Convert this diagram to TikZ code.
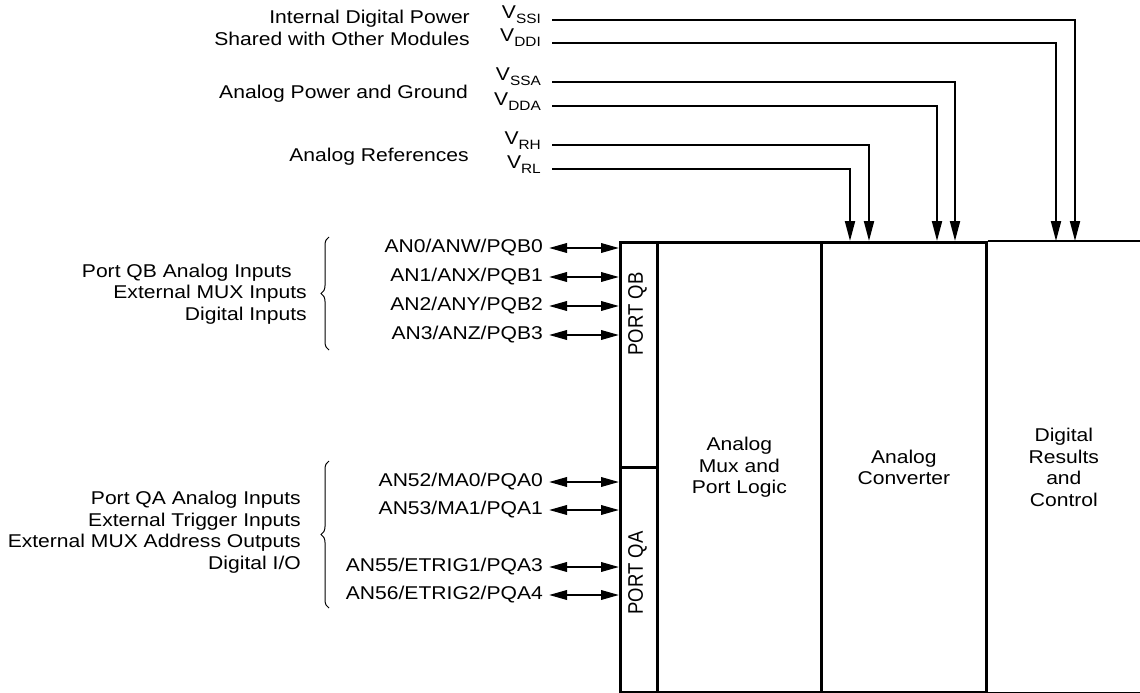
\documentclass[tikz,border=0pt]{standalone}
\usepackage{fontspec}
\setmainfont{Liberation Sans}[FakeStretch=1.14]
\newfontfamily\rotfont{Liberation Sans}
\usetikzlibrary{arrows.meta,decorations.pathreplacing}
\newcommand\Vsub[1]{V\raisebox{-5pt}{\fontsize{13.5}{13.5}\selectfont #1}}
\tikzset{
  blk/.style={draw, line width=2.7pt, anchor=north west, inner sep=0pt, align=center, minimum height=450pt},
  txt/.style={inner sep=0pt},
  pw/.style={line width=2pt, -{Triangle[length=20pt,width=10pt]}},
  bi/.style={line width=2pt, {Triangle[length=18pt,width=9.5pt]}-{Triangle[length=18pt,width=9.5pt]}},
  br/.style={line width=1pt, decorate, decoration={brace, amplitude=8pt}},
}
\begin{document}
\begin{tikzpicture}[x=1pt,y=-1pt, font=\fontsize{18.5}{21.5}\selectfont]
\useasboundingbox (0,0) rectangle (1140,693);
% main block
\node[blk, minimum width=37pt, minimum height=225pt] (pqb) at (619,241) {};
\node[blk, minimum width=37pt, minimum height=225pt] (pqa) at (619,466) {};
\node[blk, minimum width=164pt] (mux) at (656,241) {Analog\\Mux and\\Port Logic};
\node[blk, minimum width=165pt] (conv) at (820,241) {Analog\\Converter};
\node[blk, draw=none, minimum width=155pt] (dig) at (985,241) {Digital\\Results\\and\\Control};
\draw[line width=2.7pt] (conv.north east) -- (dig.north east);
\draw[line width=2.7pt] (conv.south east) -- (dig.south east);
\node[txt, rotate=90] (pqbt) at (637.5,314) {\rotfont\scalebox{1}[1.14]{PORT QB}};
\node[txt, rotate=90] (pqat) at (637.5,573) {\rotfont\scalebox{1}[1.14]{PORT QA}};
% supply labels
\node[txt, anchor=east, align=right] (idp) at (470,28) {Internal Digital Power\\Shared with Other Modules};
\node[txt, anchor=base east] (apg) at (468,99) {Analog Power and Ground};
\node[txt, anchor=base east] (aref) at (469,161) {Analog References};
\node[txt, anchor=base east] (vssi) at (541,19) {\Vsub{SSI}};
\node[txt, anchor=base east] (vddi) at (541,42) {\Vsub{DDI}};
\node[txt, anchor=base east] (vssa) at (541,81) {\Vsub{SSA}};
\node[txt, anchor=base east] (vdda) at (541,105) {\Vsub{DDA}};
\node[txt, anchor=base east] (vrh) at (541,144) {\Vsub{RH}};
\node[txt, anchor=base east] (vrl) at (541,168) {\Vsub{RL}};
\coordinate (s1) at (552,20);  \coordinate (t1) at (1075,241);
\coordinate (s2) at (552,43);  \coordinate (t2) at (1056,241);
\coordinate (s3) at (552,82);  \coordinate (t3) at (955,241);
\coordinate (s4) at (552,106); \coordinate (t4) at (937,241);
\coordinate (s5) at (552,145); \coordinate (t5) at (869,241);
\coordinate (s6) at (552,169); \coordinate (t6) at (850,241);
\draw[pw] (s1) -| (t1);
\draw[pw] (s2) -| (t2);
\draw[pw] (s3) -| (t3);
\draw[pw] (s4) -| (t4);
\draw[pw] (s5) -| (t5);
\draw[pw] (s6) -| (t6);
% port QB
\node[txt, anchor=east, align=right] (qbtxt) at (307,294) {Port QB Analog Inputs\hspace{15pt}\mbox{}\\External MUX Inputs\\Digital Inputs};
\draw[br] (329,350) -- (329,237);
\node[txt, anchor=east] (an0) at (543,248) {AN0/ANW/PQB0};
\node[txt, anchor=east] (an1) at (543,277) {AN1/ANX/PQB1};
\node[txt, anchor=east] (an2) at (543,306) {AN2/ANY/PQB2};
\node[txt, anchor=east] (an3) at (543,335) {AN3/ANZ/PQB3};
\foreach \n in {an0,an1,an2,an3}
  \draw[bi] ([xshift=6pt]\n.east) -- (\n.east -| pqb.west);
% port QA
\node[txt, anchor=east, align=right] (qatxt) at (301,532) {Port QA Analog Inputs\\External Trigger Inputs\\External MUX Address Outputs\\Digital I/O};
\draw[br] (329,608) -- (329,461);
\node[txt, anchor=east] (an52) at (543,482) {AN52/MA0/PQA0};
\node[txt, anchor=east] (an53) at (543,510) {AN53/MA1/PQA1};
\node[txt, anchor=east] (an55) at (543,567) {AN55/ETRIG1/PQA3};
\node[txt, anchor=east] (an56) at (543,595) {AN56/ETRIG2/PQA4};
\foreach \n in {an52,an53,an55,an56}
  \draw[bi] ([xshift=6pt]\n.east) -- (\n.east -| pqa.west);
\end{tikzpicture}
\end{document}
